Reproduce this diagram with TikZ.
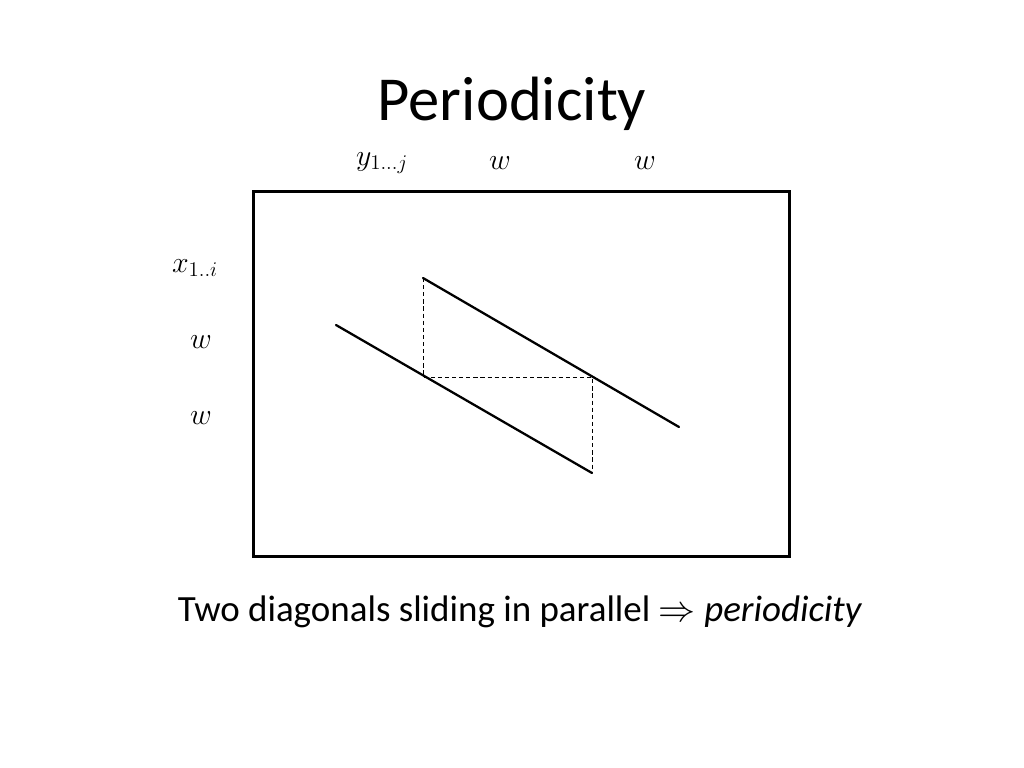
\documentclass[tikz,border=0pt]{standalone}
\usepackage{fontspec}
\usepackage{fix-cm}
\setmainfont{Carlito}
\begin{document}
\begin{tikzpicture}[x=0.703125pt,y=-0.703125pt,
  lbl/.style={inner sep=0pt,font=\fontsize{21}{24}\selectfont},
  diag/.style={line width=1.6pt,line cap=round},
  guide/.style={dashed,line width=0.7pt,dash pattern=on 3pt off 2pt}]
\useasboundingbox[fill=white] (0,0) rectangle (1024,768);
\node[inner sep=0pt,font=\fontsize{44}{50}\selectfont] (title) at (512,104) {Periodicity};
\node[draw,line width=2.2pt,minimum width=536*0.703125pt,minimum height=365*0.703125pt,inner sep=0pt,anchor=north west] (box) at (252,190) {};
\node[lbl] (yl) at (382,163) {$y_{1\ldots j}$};
\node[lbl] (w1) at (500,163) {$w$};
\node[lbl] (w2) at (645,163) {$w$};
\node[lbl] (xl) at (195,268) {$x_{1..i}$};
\node[lbl] (w3) at (201,342) {$w$};
\node[lbl] (w4) at (201,418) {$w$};
\coordinate (ua) at (423,278);
\coordinate (ub) at (679,427);
\coordinate (la) at (336,325);
\coordinate (lb) at (592,473);
\coordinate (p) at (423,377);
\coordinate (q) at (592,377);
\draw[diag] (ua) -- (ub);
\draw[diag] (la) -- (lb);
\draw[guide] (ua) -- (p) -- (q) -- (lb);
\node[inner sep=0pt,font=\fontsize{26}{30}\selectfont] (cap) at (520,612) {Two diagonals sliding in parallel $\Rightarrow$ \textit{periodicity}};
\end{tikzpicture}
\end{document}
